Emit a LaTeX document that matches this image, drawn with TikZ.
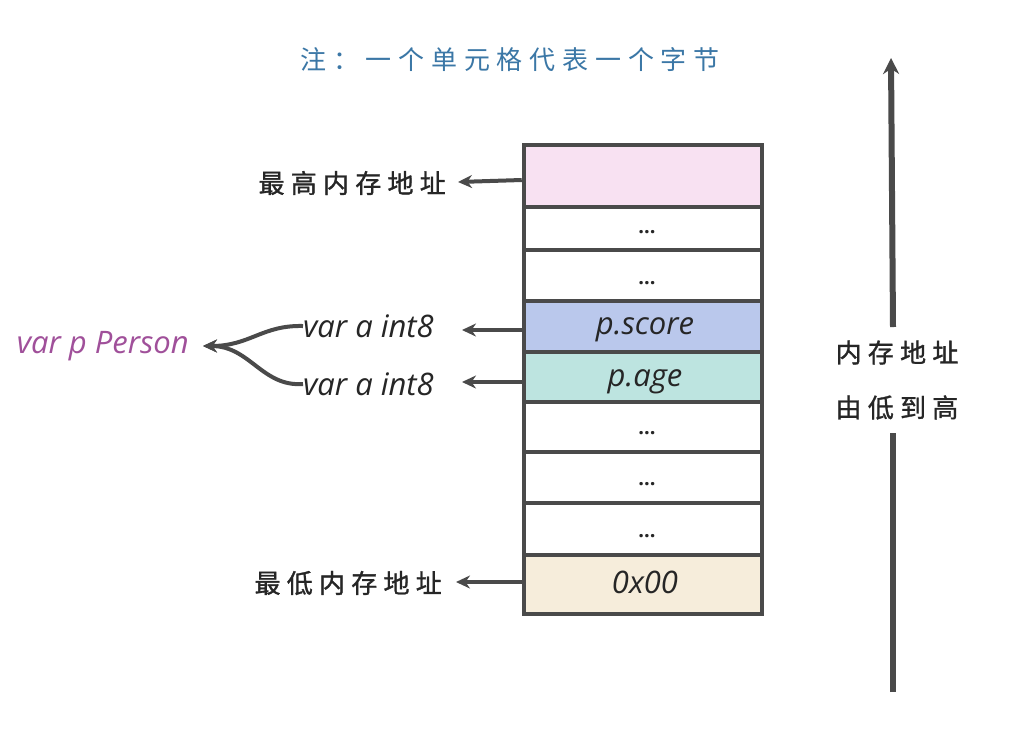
\documentclass[tikz,border=0pt]{standalone}
\usepackage{fontspec}
\newfontfamily\cjk[LetterSpace=24,FakeBold=1.2]{Noto Sans CJK SC}
\newfontfamily\cjktitle[LetterSpace=26]{Noto Sans CJK SC}
\newfontfamily\hand{Open Sans}
\usetikzlibrary{arrows.meta}
\definecolor{linec}{HTML}{4A4A4A}
\definecolor{pinkc}{HTML}{F8E1F2}
\definecolor{bluec}{HTML}{BAC8EC}
\definecolor{tealc}{HTML}{BDE4E0}
\definecolor{beigec}{HTML}{F6EDDB}
\definecolor{titlec}{HTML}{3B77A6}
\definecolor{purplec}{HTML}{A0509A}
\tikzset{
  cell/.style={draw=linec, line width=4.5pt, minimum width=238pt, inner sep=0pt, anchor=center},
  cn/.style={font=\cjk\fontsize{26}{30}\selectfont, text=black!85, inner sep=0pt},
  lt/.style={font=\hand\itshape\fontsize{31}{34}\selectfont, text=black!85, inner sep=0pt},
  dots/.style={font=\hand\bfseries\fontsize{20}{22}\selectfont, text=black!85, inner sep=0pt},
  arr/.style={draw=linec, line width=4pt, -{Stealth[length=14pt,width=13pt]}},
}
\begin{document}
\begin{tikzpicture}[x=1pt,y=-1pt]
\useasboundingbox[fill=white] (0,0) rectangle (1020,748);
% title
\node[font=\cjktitle\fontsize{26}{28}\selectfont, text=titlec, inner sep=0pt] (title) at (510,60) {注：一个单元格代表一个字节};
% cells
\node[cell, fill=pinkc, minimum height=62pt] (c1) at (643,176) {};
\node[cell, fill=white, minimum height=43pt] (c2) at (643,228.5) {};
\node[cell, fill=white, minimum height=51pt] (c3) at (643,275.5) {};
\node[cell, fill=bluec, minimum height=51pt] (c4) at (643,326.5) {};
\node[cell, fill=tealc, minimum height=50pt] (c5) at (643,377) {};
\node[cell, fill=white, minimum height=50pt] (c6) at (643,427) {};
\node[cell, fill=white, minimum height=51pt] (c7) at (643,477.5) {};
\node[cell, fill=white, minimum height=52pt] (c8) at (643,529) {};
\node[cell, fill=beigec, minimum height=59pt] (c9) at (643,584.5) {};
% cell texts
\node[dots] (d2) at (647,232) {...};
\node[dots] (d3) at (647,283) {...};
\node[lt] (t4) at (645,330) {p.score};
\node[lt] (t5) at (645,382) {p.age};
\node[dots] (d6) at (647,433) {...};
\node[dots] (d7) at (647,484) {...};
\node[dots] (d8) at (647,536) {...};
\node[lt] (t9) at (645,582) {0x00};
% left labels
\node[cn, anchor=east] (hi) at (446,183) {最高内存地址};
\node[cn, anchor=east] (lo) at (442,583) {最低内存地址};
\node[lt, anchor=west] (v1) at (303,326) {var a int8};
\node[lt, anchor=west] (v2) at (303,384) {var a int8};
\node[lt, anchor=east, text=purplec] (vp) at (189,346) {var p Person};
\coordinate (vpt) at ([xshift=14pt]vp.east);
% arrows
\draw[arr] (c1.west |- 0,180) -- (458,182);
\draw[arr] (c4.west |- 0,330) -- (462,330);
\draw[arr] (c5.west |- 0,382) -- (462,382);
\draw[arr] (c9.west |- 0,582) -- (456,582);
\draw[arr] (v1.west) .. controls (262,325) and (250,346) .. (vpt);
\draw[arr] (v2.west) .. controls (262,387) and (250,346) .. (vpt);
% right axis
\node[cn, align=center, font=\cjk\fontsize{26}{55}\selectfont] (addr) at (897,380) {内存地址\\由低到高};
\coordinate (bot) at (893,692);
\coordinate (top) at (891,58);
\draw[draw=linec, line width=6pt] (bot) -- (bot |- 0,433);
\draw[draw=linec, line width=6pt, -{Stealth[length=16pt,width=16pt]}] (893,327) -- (top);
\end{tikzpicture}
\end{document}
